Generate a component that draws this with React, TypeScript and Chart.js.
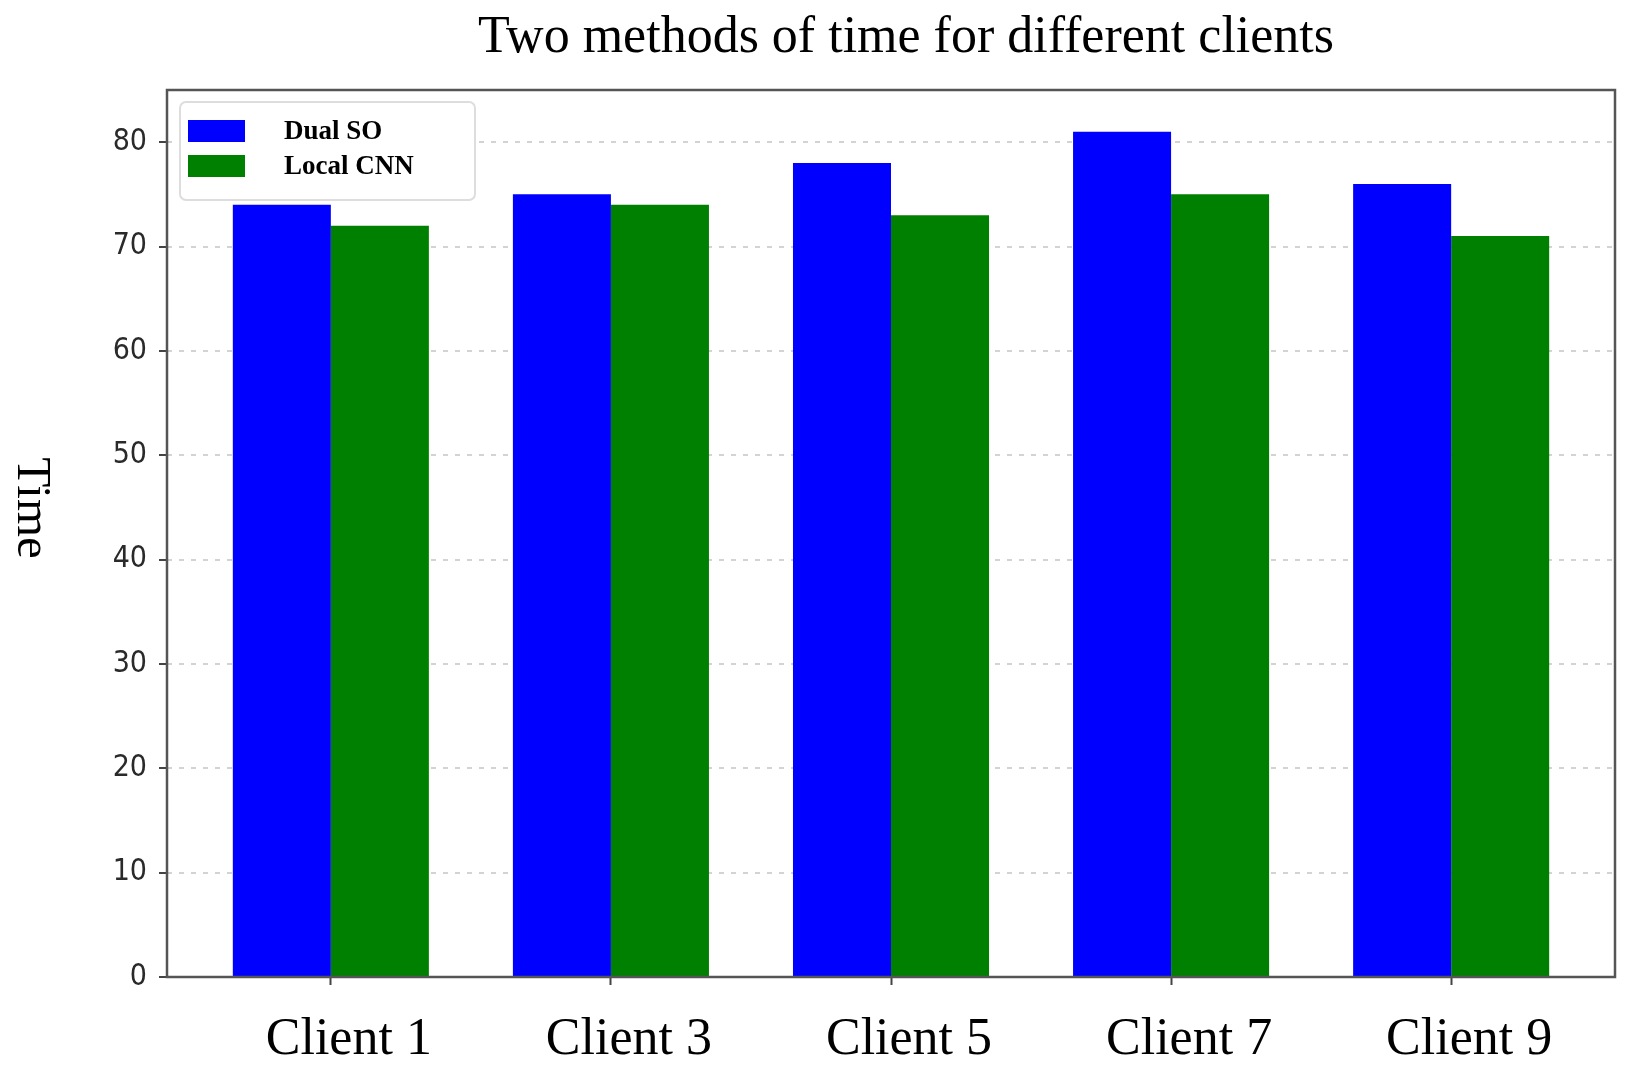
import { Chart, ChartItem, ChartConfiguration, registerables } from "chart.js";
import { useEffect, useRef } from "react";

Chart.register(...registerables);

// data
const clients = ["Client 1", "Client 3", "Client 5", "Client 7", "Client 9"];
const dualSO = [74, 75, 78, 81, 76];
const localCNN = [72, 74, 73, 75, 71];
const yTicks = [0, 10, 20, 30, 40, 50, 60, 70, 80];
const seriesNames = ["Dual SO", "Local CNN"];
const seriesColors = ["#0000ff", "#008000"];

const chartTitle = "Two methods of time for different clients";
const yTitle = "Time";

const serif = "'Liberation Serif', 'Times New Roman', serif";

// title, y label, legend box and the frame round the plot
const extrasPlugin = {
    id: "extras",
    afterDraw(chart: any) {
        const ctx = chart.ctx as CanvasRenderingContext2D;
        const area = chart.chartArea;
        ctx.save();

        // frame
        ctx.strokeStyle = "#555";
        ctx.lineWidth = 2.5;
        ctx.strokeRect(area.left, area.top, area.right - area.left, area.bottom - area.top);

        // title
        ctx.fillStyle = "#000";
        ctx.font = `52px ${serif}`;
        ctx.textAlign = "center";
        ctx.textBaseline = "alphabetic";
        ctx.fillText(chartTitle, (area.left + area.right) / 2 + 15, 52);

        // y axis title, turned clockwise
        ctx.save();
        ctx.translate(31, 508);
        ctx.rotate(Math.PI / 2);
        ctx.font = `49px ${serif}`;
        ctx.textBaseline = "middle";
        ctx.fillText(yTitle, 0, 0);
        ctx.restore();

        // legend
        const lx = area.left + 13;
        const ly = area.top + 12;
        ctx.fillStyle = "#fff";
        ctx.strokeStyle = "#ddd";
        ctx.lineWidth = 2;
        ctx.beginPath();
        ctx.roundRect(lx, ly, 295, 98, 6);
        ctx.fill();
        ctx.stroke();
        ctx.font = `bold 27px ${serif}`;
        ctx.textAlign = "left";
        ctx.textBaseline = "middle";
        chart.data.datasets.forEach((ds: any, i: number) => {
            const cy = ly + 29 + i * 35;
            ctx.fillStyle = ds.backgroundColor;
            ctx.fillRect(lx + 8, cy - 11, 57, 22);
            ctx.fillStyle = "#000";
            ctx.fillText(ds.label, lx + 104, cy + 1);
        });

        ctx.restore();
    },
};

export default function App() {
    const chartRef = useRef<HTMLCanvasElement | null>(null);
    useEffect(() => {
        document.body.style.margin = "0";
        const context = chartRef.current?.getContext("2d");

        const chartData = {
            datasets: [dualSO, localCNN].map((values, i) => ({
                label: seriesNames[i],
                data: values.map((v, j) => ({ x: j, y: v })),
                backgroundColor: seriesColors[i],
                borderWidth: 0,
                categoryPercentage: 0.7,
                barPercentage: 1.0,
            })),
        };

        const config = {
            type: "bar",
            data: chartData,
            plugins: [extrasPlugin],
            options: {
                animation: false,
                responsive: true,
                maintainAspectRatio: false,
                layout: { padding: { left: 0, top: 90, right: 28, bottom: 0 } },
                scales: {
                    x: {
                        type: "linear",
                        offset: false,
                        min: -0.585,
                        max: clients.length - 1 + 0.585,
                        afterBuildTicks: (axis: any) => {
                            axis.ticks = clients.map((_, i) => ({ value: i }));
                        },
                        afterFit: (axis: any) => {
                            axis.height = 101;
                        },
                        grid: {
                            display: true,
                            offset: false,
                            drawOnChartArea: false,
                            drawTicks: true,
                            tickLength: 8,
                            tickColor: "#444",
                            tickWidth: 2,
                        },
                        border: { display: false },
                        ticks: {
                            callback: (value: number) => clients[value],
                            padding: 24,
                            labelOffset: 18,
                            maxRotation: 0,
                            autoSkip: false,
                            color: "#000",
                            font: { family: serif, size: 52 },
                        },
                    },
                    y: {
                        min: 0,
                        max: 85,
                        z: 1,
                        afterBuildTicks: (axis: any) => {
                            axis.ticks = yTicks.map(v => ({ value: v }));
                        },
                        afterFit: (axis: any) => {
                            axis.width = 167;
                        },
                        grid: {
                            color: "rgba(200,200,200,0.8)",
                            lineWidth: 2,
                            tickLength: 8,
                            tickColor: "#444",
                            tickWidth: 2,
                            tickBorderDash: [],
                        },
                        border: { display: false, dash: [5, 7] },
                        ticks: {
                            padding: 12,
                            color: "#2a2a2a",
                            font: { family: "'Liberation Sans Narrow', 'DejaVu Sans Condensed', 'DejaVu Sans'", size: 30 },
                        },
                    },
                },
                plugins: {
                    legend: { display: false },
                    title: { display: false },
                    tooltip: { enabled: false },
                },
            },
        };

        const chartInstance = new Chart(context as ChartItem, config as unknown as ChartConfiguration);
        return () => {
            chartInstance.destroy();
        };
    }, []);
    return (
        <div style={{ width: 1643, height: 1078, position: "relative", background: "#fff" }}>
            <canvas ref={chartRef} />
        </div>
    );
}
